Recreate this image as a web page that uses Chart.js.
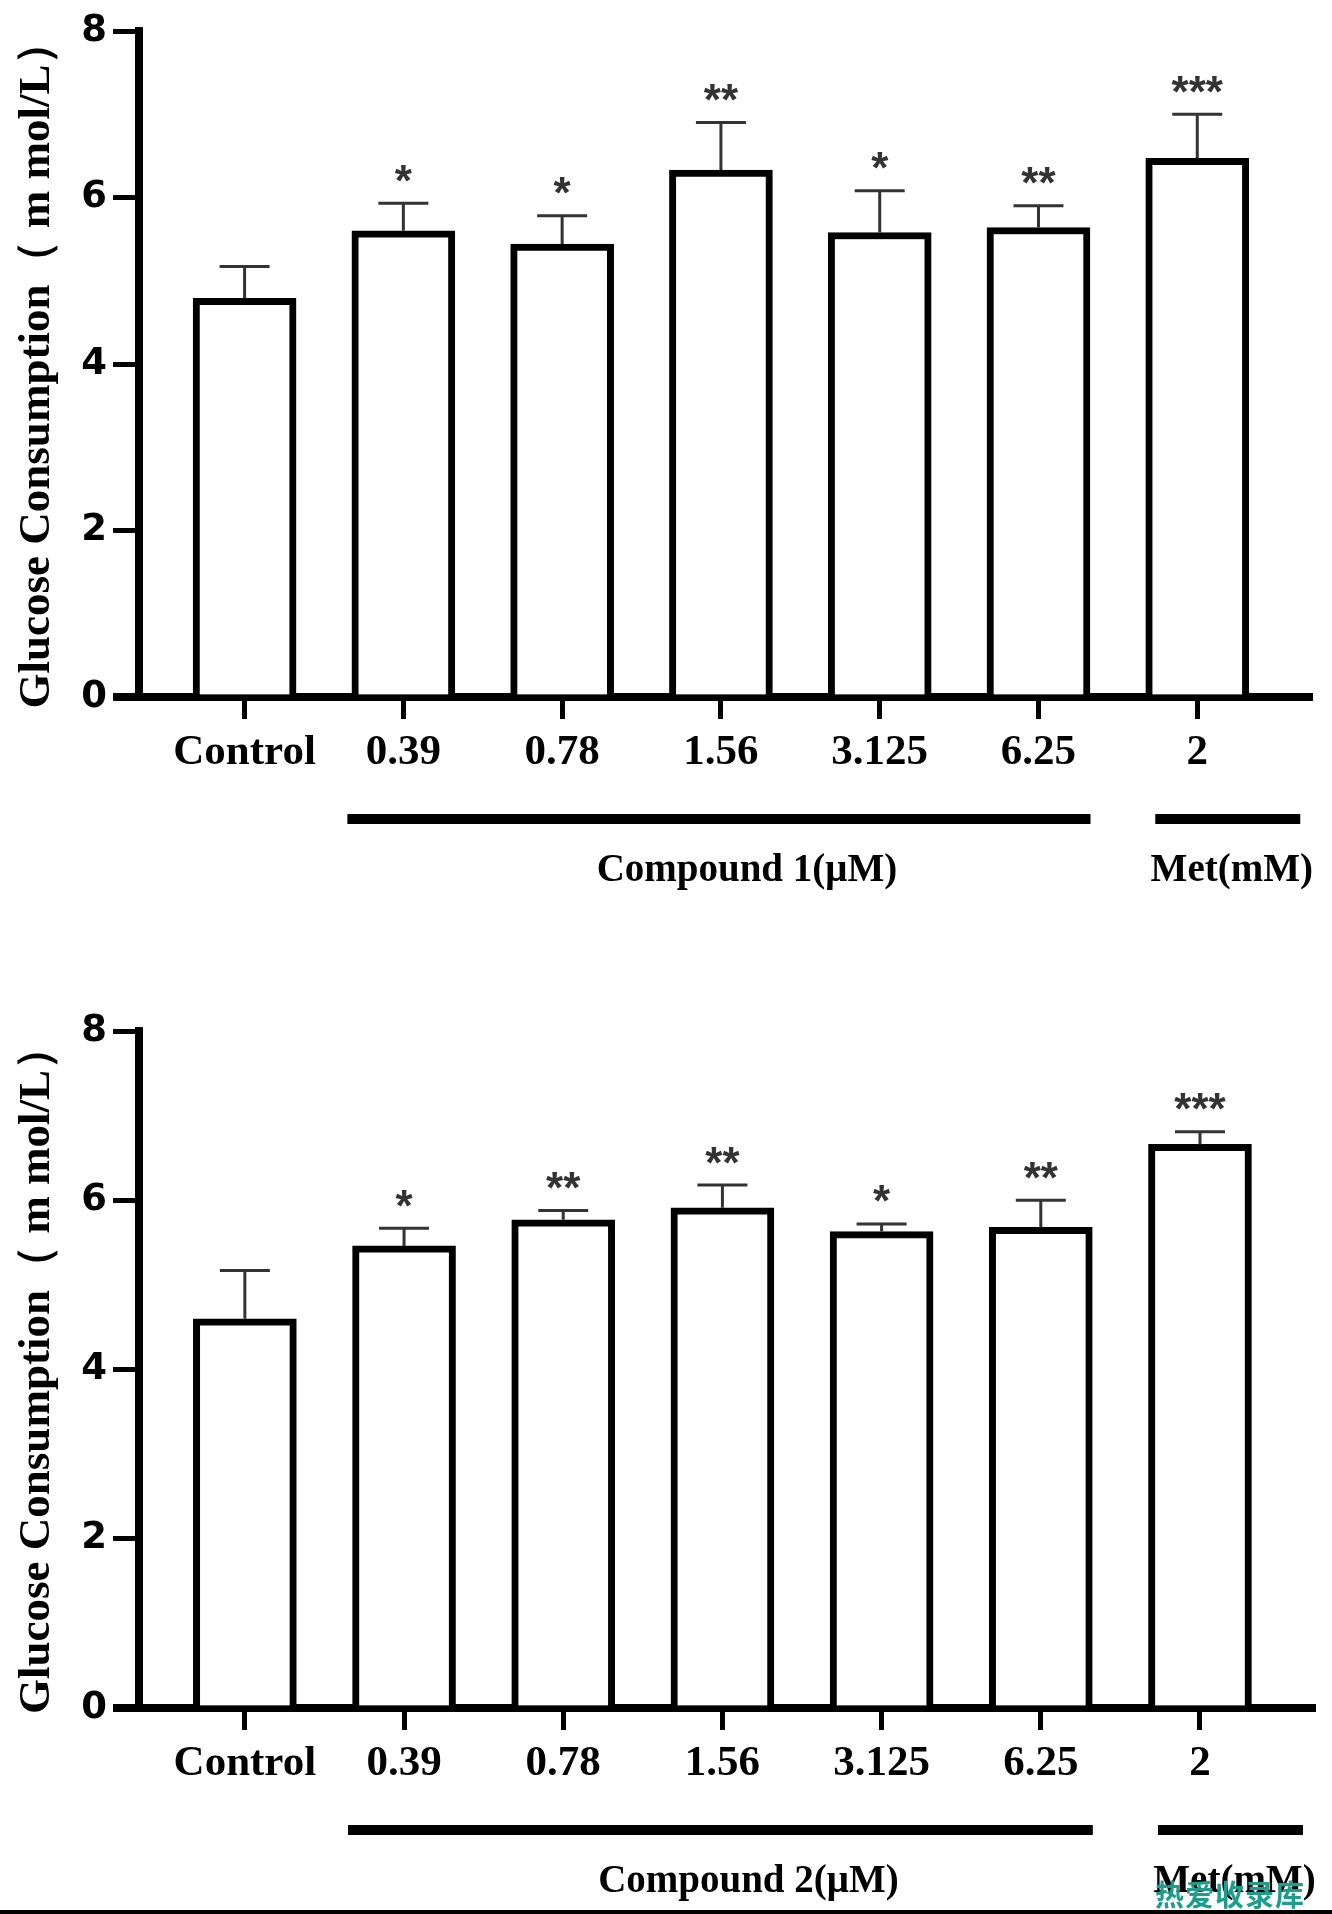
<!DOCTYPE html>
<html>
<head>
<meta charset="utf-8">
<script src="https://cdn.jsdelivr.net/npm/chart.js@4.4.1/dist/chart.umd.min.js"></script>
<style>
  body { margin: 0; background: #fff; width: 1332px; height: 1914px; position: relative; overflow: hidden; }
  canvas { display: block; }
  #bottomLine { position: absolute; left: 0; top: 1910px; width: 1332px; height: 4px; background: #000; }
  #mark { position: absolute; left: 1155px; top: 1872px; font: bold 29px "Noto Sans CJK SC"; color: #1f9c8c; letter-spacing: 1px; }
</style>
</head>
<body>
<canvas id="chart1" width="1332" height="957"></canvas>
<canvas id="chart2" width="1332" height="953"></canvas>
<div id="bottomLine"></div>
<div id="mark">热爱收录库</div>
<script>
const categories = ['Control', '0.39', '0.78', '1.56', '3.125', '6.25', '2'];
const yTicks = [0, 2, 4, 6, 8];
const yTitle = 'Glucose Consumption（ m mol/L）';

// compound 1
const c1Means = [4.79, 5.60, 5.44, 6.33, 5.58, 5.64, 6.47];
const c1Sd = [0.38, 0.33, 0.34, 0.57, 0.50, 0.26, 0.53];
const c1Stars = ['', '*', '*', '**', '*', '**', '***'];
const c1Groups = ['Compound 1(μM)', 'Met(mM)'];

// compound 2
const c2Means = [4.60, 5.46, 5.77, 5.91, 5.63, 5.68, 6.66];
const c2Sd = [0.57, 0.21, 0.11, 0.27, 0.09, 0.32, 0.15];
const c2Stars = ['', '*', '**', '**', '*', '**', '***'];
const c2Groups = ['Compound 2(μM)', 'Met(mM)'];

// category index span of each group line
const groupFrom = [1, 6];
const groupTo = [5, 6];

function makeChart(id, means, sd, stars, groups, top, axisH, rightPad) {
  const extras = {
    id: 'extras',
    afterDatasetsDraw(chart) {
      const ctx = chart.ctx, xs = chart.scales.x, ys = chart.scales.y;
      ctx.save();
      ctx.strokeStyle = '#333';
      ctx.lineWidth = 3;
      means.forEach((m, i) => {
        const px = xs.getPixelForValue(i);
        const yb = ys.getPixelForValue(m);
        const yt = ys.getPixelForValue(m + sd[i]);
        ctx.beginPath();
        ctx.moveTo(px, yb); ctx.lineTo(px, yt);
        ctx.moveTo(px - 25, yt); ctx.lineTo(px + 25, yt);
        ctx.stroke();
        if (stars[i]) {
          ctx.font = 'bold 44px "Liberation Sans"';
          ctx.fillStyle = '#333';
          ctx.textAlign = 'center';
          ctx.textBaseline = 'alphabetic';
          const tm = ctx.measureText(stars[i]);
          const cy = yt - 30;
          ctx.fillText(stars[i], px, cy + (tm.actualBoundingBoxAscent - tm.actualBoundingBoxDescent) / 2);
        }
      });
      ctx.restore();
    },
    afterDraw(chart) {
      const ctx = chart.ctx, xs = chart.scales.x, area = chart.chartArea;
      ctx.save();
      ctx.fillStyle = '#000';
      // x axis runs a little past the y axis
      ctx.fillRect(area.left - 26, area.bottom - 4, 26, 8);
      ctx.strokeStyle = '#000';
      ctx.lineWidth = 10;
      ctx.font = 'bold 39px "Liberation Serif"';
      ctx.textAlign = 'center';
      ctx.textBaseline = 'alphabetic';
      groups.forEach((g, k) => {
        const single = groupFrom[k] === groupTo[k];
        const x1 = xs.getPixelForValue(groupFrom[k]) - (single ? 42 : 56);
        const x2 = xs.getPixelForValue(groupTo[k]) + (single ? 103 : 52);
        ctx.beginPath();
        ctx.moveTo(x1, area.bottom + 122); ctx.lineTo(x2, area.bottom + 122);
        ctx.stroke();
        ctx.fillText(g, (x1 + x2) / 2 + (single ? 4 : 28), area.bottom + 184);
      });
      ctx.restore();
    }
  };

  return new Chart(document.getElementById(id), {
    type: 'bar',
    data: {
      datasets: [{
        data: means.map((m, i) => ({ x: i, y: m })),
        backgroundColor: '#fff',
        borderColor: '#000',
        borderWidth: 7,
        borderSkipped: 'start',
        barThickness: 103
      }]
    },
    options: {
      responsive: false,
      animation: false,
      devicePixelRatio: 1,
      layout: { padding: { top: top, right: rightPad, left: 0, bottom: 0 } },
      plugins: { legend: { display: false }, tooltip: { enabled: false } },
      scales: {
        x: {
          type: 'linear',
          offset: false,
          min: -0.665,
          max: 6.71,
          afterBuildTicks: s => { s.ticks = categories.map((c, i) => ({ value: i })); },
          afterFit: s => { s.height = axisH; },
          ticks: {
            callback: v => categories[v],
            color: '#000',
            padding: 8,
            maxRotation: 0,
            autoSkip: false,
            font: { family: 'Liberation Serif', weight: 'bold', size: 43 }
          },
          grid: { offset: false, drawOnChartArea: false, tickLength: 22, lineWidth: 5, color: '#000' },
          border: { width: 8, color: '#000' }
        },
        y: {
          min: 0,
          max: 8,
          afterBuildTicks: s => { s.ticks = yTicks.map(v => ({ value: v })); },
          afterFit: s => { s.width = 139; },
          ticks: {
            color: '#000',
            padding: 6,
            font: { family: 'DejaVu Sans', weight: 'bold', size: 37 }
          },
          grid: { drawOnChartArea: false, tickLength: 26, lineWidth: 5, color: '#000' },
          border: { width: 8, color: '#000' },
          title: {
            display: true,
            text: yTitle,
            color: '#000',
            padding: { top: 10, bottom: 0 },
            font: { family: 'Liberation Serif', weight: 'bold', size: 45 }
          }
        }
      }
    },
    plugins: [extras]
  });
}

makeChart('chart1', c1Means, c1Sd, c1Stars, c1Groups, 31, 260, 22);
makeChart('chart2', c2Means, c2Sd, c2Stars, c2Groups, 74, 202, 19);
</script>
</body>
</html>
